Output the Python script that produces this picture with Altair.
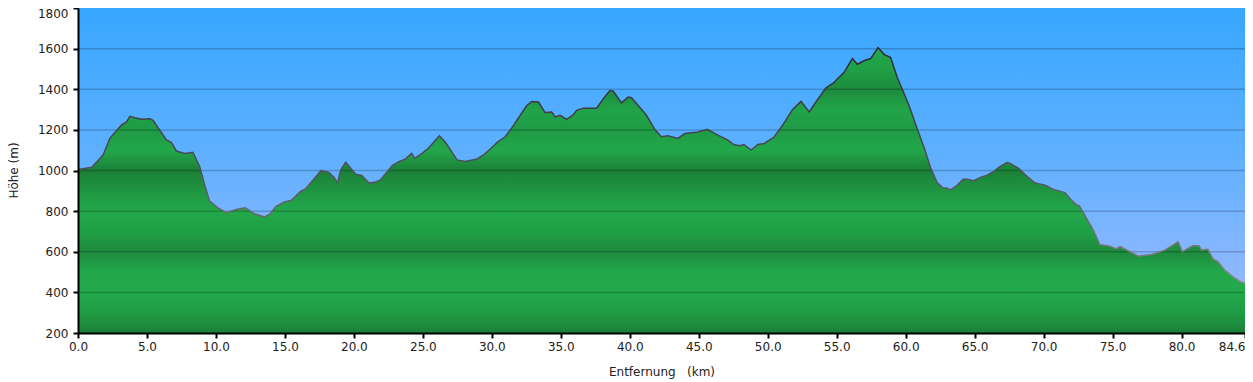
import altair as alt
import pandas as pd

dist_km = [0.0, 1.0, 1.83, 2.31, 2.67, 3.15, 3.52, 3.76, 4.12, 4.6, 5.2, 5.44, 5.92, 6.41, 6.77,
           7.13, 7.73, 8.33, 8.82, 9.18, 9.54, 10.14, 10.74, 11.47, 12.12, 12.79, 13.51, 13.87,
           14.36, 14.96, 15.44, 16.16, 16.52, 17.0, 17.61, 18.2, 18.57, 18.81, 19.05, 19.41,
           20.13, 20.57, 21.1, 21.58, 21.94, 22.78, 23.27, 23.75, 24.18, 24.42, 24.95, 25.43,
           26.2, 26.64, 27.48, 28.08, 28.92, 29.41, 29.89, 30.37, 30.97, 31.45, 32.06, 32.54,
           32.9, 33.38, 33.86, 34.34, 34.59, 34.95, 35.43, 35.91, 36.15, 36.63, 37.6, 38.08,
           38.56, 38.8, 39.4, 39.88, 40.12, 40.61, 41.21, 41.81, 42.29, 42.77, 43.5, 43.98,
           44.94, 45.61, 46.39, 47.11, 47.54, 47.95, 48.27, 48.8, 49.28, 49.76, 50.48, 51.08,
           51.81, 52.41, 53.01, 53.49, 54.21, 54.82, 55.06, 55.54, 56.14, 56.5, 56.98, 57.46,
           58.0, 58.43, 58.91, 59.39, 59.75, 60.24, 60.84, 61.32, 61.8, 62.28, 62.72, 62.96,
           63.25, 63.73, 64.16, 64.45, 64.94, 65.41, 65.9, 66.26, 66.86, 67.34, 67.58, 68.19,
           68.79, 69.39, 70.11, 70.71, 71.55, 71.92, 72.35, 72.59, 73.12, 73.6, 74.08, 74.69,
           75.29, 75.53, 76.25, 76.86, 77.82, 78.78, 79.39, 79.75, 80.06, 80.47, 80.83, 81.26,
           81.43, 81.91, 82.28, 82.64, 83.11, 83.72, 84.32, 84.6]
elev_m = [1005, 1016, 1077, 1158, 1187, 1223, 1239, 1267, 1260, 1252, 1255, 1247, 1199, 1150, 1138,
          1096, 1084, 1089, 1020, 930, 849, 816, 792, 808, 816, 787, 771, 784,
          824, 845, 852, 898, 911, 950, 999, 990, 966, 938, 1003, 1040,
          982, 976, 938, 943, 955, 1024, 1044, 1057, 1084, 1060, 1084, 1112,
          1171, 1138, 1052, 1044, 1057, 1077, 1106, 1137, 1166, 1210, 1272, 1320,
          1340, 1337, 1285, 1288, 1264, 1272, 1252, 1275, 1296, 1307, 1307, 1353,
          1394, 1390, 1333, 1361, 1358, 1320, 1272, 1203, 1166, 1171, 1158, 1182,
          1190, 1203, 1174, 1150, 1128, 1122, 1128, 1101, 1128, 1133, 1166, 1223,
          1301, 1340, 1288, 1337, 1406, 1434, 1452, 1483, 1551, 1523, 1540, 1551,
          1605, 1572, 1556, 1458, 1401, 1320, 1205, 1116, 1015, 941, 913, 915,
          905, 927, 957, 957, 950, 966, 977, 990, 1020, 1039, 1035, 1010,
          971, 938, 927, 907, 891, 861, 832, 826, 763, 707, 634, 630,
          614, 626, 600, 579, 587, 608, 633, 649, 600, 617, 629, 630,
          609, 612, 565, 551, 511, 478, 451, 446]

x_ticks = [0, 5, 10, 15, 20, 25, 30, 35, 40, 45, 50, 55, 60, 65, 70, 75, 80, 84.6]
y_ticks = [200, 400, 600, 800, 1000, 1200, 1400, 1600, 1800]
grid_levels = [400, 600, 800, 1000, 1200, 1400, 1600]

X_MIN, X_MAX = 0, 84.6
Y_MIN, Y_MAX = 200, 1800

df = pd.DataFrame({"km": dist_km, "elev": elev_m})
df["base"] = Y_MIN

# ---- gradients ----
top = max(elev_m)
green_levels = [(1605, "#22a84b"), (1500, "#20a046"), (1400, "#1d8a3d"), (1300, "#21a449"),
                (1200, "#1f9a45"), (1100, "#22a84b"), (1000, "#1b7f37"), (900, "#1f9642"),
                (800, "#22a84b"), (700, "#20a046"), (600, "#1d8a3d"), (500, "#22a84b"),
                (400, "#22aa4c"), (300, "#209c45"), (200, "#1b7f37")]
green_stops = []
for lvl, col in green_levels:
    lvl = min(lvl, top)
    off = (top - lvl) / (top - Y_MIN)
    green_stops.append({"offset": round(max(0.0, min(1.0, off)), 4), "color": col})

green_fill = {"gradient": "linear", "x1": 0, "x2": 0, "y1": 0, "y2": 1, "stops": green_stops}
sky_fill = {"gradient": "linear", "x1": 0, "x2": 0, "y1": 0, "y2": 1,
            "stops": [{"offset": 0, "color": "#37a7ff"},
                      {"offset": 0.45, "color": "#5fb0ff"},
                      {"offset": 0.8, "color": "#8cb7ff"},
                      {"offset": 1, "color": "#a9b7ff"}]}
outline_stroke = {"gradient": "linear", "x1": 0, "x2": 0, "y1": 0, "y2": 1,
                  "stops": [{"offset": 0, "color": "#2a2a36"},
                            {"offset": 0.5, "color": "#4e4e5a"},
                            {"offset": 1, "color": "#8a8a8a"}]}

x_scale = alt.Scale(domain=[X_MIN, X_MAX], nice=False, zero=False)
y_scale = alt.Scale(domain=[Y_MIN, Y_MAX], nice=False, zero=False)

x_axis = alt.Axis(
    values=x_ticks, format=".1f", grid=False, zindex=1,
    labelAlign=alt.ExprRef(expr="datum.value > 84 ? 'right' : 'center'"),
    labelPadding=3, title="Entfernung\u00a0\u00a0\u00a0(km)",
    titleY=38, titleBaseline="middle",
)
y_axis = alt.Axis(
    values=y_ticks, format="d", grid=False, zindex=1,
    labelBaseline=alt.ExprRef(expr="datum.value == 1800 ? 'top' : 'middle'"),
    labelPadding=5, title="Höhe (m)", titleAngle=270, titleX=-65, titleY=162,
    titleAlign="center", titleBaseline="middle",
)

bg_df = pd.DataFrame({"x0": [X_MIN], "x1": [X_MAX], "y0": [Y_MIN], "y1": [Y_MAX]})
background = alt.Chart(bg_df).mark_rect(fill=sky_fill).encode(
    x=alt.X("x0:Q", scale=x_scale, axis=x_axis),
    x2="x1:Q",
    y=alt.Y("y0:Q", scale=y_scale, axis=y_axis),
    y2="y1:Q",
)

area = alt.Chart(df).mark_area(fill=green_fill, interpolate="linear").encode(
    x=alt.X("km:Q", scale=x_scale, axis=x_axis),
    y=alt.Y("elev:Q", scale=y_scale, axis=y_axis),
    y2="base:Q",
)

grid = alt.Chart(pd.DataFrame({"lvl": grid_levels})).mark_rule(
    color="#000000", opacity=0.2, strokeWidth=1.5
).encode(y=alt.Y("lvl:Q", scale=y_scale, axis=y_axis))

outline = alt.Chart(df).mark_line(stroke=outline_stroke, strokeWidth=1.5).encode(
    x=alt.X("km:Q", scale=x_scale, axis=x_axis),
    y=alt.Y("elev:Q", scale=y_scale, axis=y_axis),
)

chart = alt.layer(background, area, grid, outline).properties(
    width=1167, height=325,
    autosize=alt.AutoSizeParams(type="none"),
    padding={"left": 70, "top": 0, "right": 0, "bottom": 49},
).configure_view(stroke=None).configure_axis(
    domainColor="#000000", domainWidth=2, tickColor="#000000", tickWidth=2, tickSize=5,
    labelFont="DejaVu Sans", labelFontSize=12, labelColor="#222222",
    titleFont="DejaVu Sans", titleFontSize=12, titleFontWeight="normal", titleColor="#222222",
)

chart.save("out.html", embed_options={"renderer": "svg", "actions": False})
